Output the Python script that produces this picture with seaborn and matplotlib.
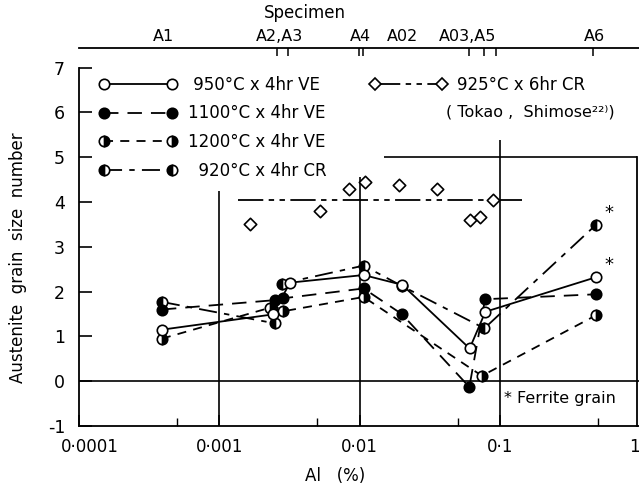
import numpy as np
import pandas as pd
import matplotlib
matplotlib.use("Agg")
import matplotlib.pyplot as plt
import matplotlib.transforms as mtransforms
from matplotlib.lines import Line2D
from matplotlib.ticker import FixedLocator, NullFormatter, FixedFormatter
import seaborn as sns

# ---------------- data ----------------
specimen_labels = ["A1", "A2,A3", "A4", "A02", "A03,A5", "A6"]
specimen_label_al = [0.00040, 0.0027, 0.0101, 0.0204, 0.059, 0.475]
specimen_tick_al = [0.00040, 0.00256, 0.00307, 0.0099, 0.0106, 0.0204,
                    0.0607, 0.0772, 0.0937, 0.465]

al_950 = [0.00039, 0.0024, 0.0032, 0.0107, 0.0202, 0.061, 0.079, 0.485]
gs_950 = [1.15, 1.49, 2.20, 2.37, 2.15, 0.73, 1.55, 2.32]

al_1100 = [0.00039, 0.0025, 0.00285, 0.0107, 0.0200, 0.0607, 0.0785, 0.485]
gs_1100 = [1.60, 1.81, 1.85, 2.07, 1.50, -0.13, 1.83, 1.94]

al_1200 = [0.00039, 0.0023, 0.00285, 0.0107, 0.0746, 0.485]
gs_1200 = [0.95, 1.64, 1.56, 1.88, 0.12, 1.47]

al_920 = [0.00039, 0.0025, 0.0028, 0.0107, 0.0202, 0.0777, 0.485]
gs_920 = [1.77, 1.29, 2.18, 2.58, 2.12, 1.18, 3.49]

al_925 = [0.00167, 0.00519, 0.00836, 0.01086, 0.0190, 0.0355, 0.0613, 0.0727, 0.0889]
gs_925 = [3.52, 3.80, 4.30, 4.44, 4.38, 4.28, 3.60, 3.66, 4.04]
mean_925 = 4.05
mean_925_range = [0.00136, 0.145]

ferrite_al = [0.485, 0.485]
ferrite_gs = [3.49, 2.32]

series_labels = [" 950°C x 4hr VE", "1100°C x 4hr VE", "1200°C x 4hr VE", "  920°C x 4hr CR"]
tokao_label = "925°C x 6hr CR"
tokao_ref = "( Tokao ,  Shimose²²⁾)"

xtick_vals = [1e-4, 1e-3, 1e-2, 1e-1, 1.0]
xtick_labels = ["0·0001", "0·001", "0·01", "0·1", "1"]
xminor_vals = [5e-4, 5e-3, 5e-2, 5e-1]
ytick_vals = [-1, 0, 1, 2, 3, 4, 5, 6, 7]
ytick_labels = ["-1", "0", "1", "2", "3", "4", "5", "6", "7"]

# ---------------- figure ----------------
sns.set_theme(style="white")
plt.rcParams['font.family'] = ['DejaVu Sans']
plt.rcParams['axes.unicode_minus'] = False
plt.rcParams['text.color'] = 'black'

W, H = 639, 493
fig = plt.figure(figsize=(W / 100, H / 100), dpi=100)
fig.patch.set_facecolor("white")
ax_left, ax_right, ax_top, ax_bottom = 79, 640, 48, 426
ax = fig.add_axes([ax_left / W, 1 - ax_bottom / H, (ax_right - ax_left) / W, (ax_bottom - ax_top) / H])
ax.set_facecolor("white")
ax.set_xscale("log")
ax.set_xlim(1e-4, 1.0)
ax.set_ylim(-1, -1 + (ax_bottom - ax_top) / 44.8)

K = "black"
LW = 1.3
MS = 7.5
MEW = 1.2


def draw(al, gs, **kw):
    df = pd.DataFrame({"al": al, "gs": gs})
    sns.lineplot(data=df, x="al", y="gs", ax=ax, estimator=None, sort=False,
                 color=K, legend=False, linewidth=LW, markersize=MS,
                 markeredgecolor=K, markeredgewidth=MEW, **kw)


style_920 = dict(linestyle=(0, (10, 4, 3, 4)), marker="o", fillstyle="left",
                 markerfacecolor=K, markerfacecoloralt="white")
style_1200 = dict(linestyle=(0, (5, 4)), marker="o", fillstyle="right",
                  markerfacecolor=K, markerfacecoloralt="white")
style_1100 = dict(linestyle=(0, (8, 5)), marker="o", markerfacecolor=K)
style_950 = dict(linestyle="-", marker="o", markerfacecolor="white")

draw(al_920, gs_920, zorder=3, **style_920)
draw(al_1200, gs_1200, zorder=3, **style_1200)
draw(al_1100, gs_1100, zorder=4, **style_1100)
draw(al_950, gs_950, zorder=5, **style_950)

sns.scatterplot(x=al_925, y=gs_925, ax=ax, marker="D", s=40, color="white",
                edgecolor=K, linewidth=1.2, zorder=5, legend=False)
dash_925 = (0, (14, 3, 3, 3, 3, 3))
ax.plot(mean_925_range, [mean_925, mean_925], color=K, lw=LW, linestyle=dash_925, zorder=2)

for xa, ya in zip(ferrite_al, ferrite_gs):
    ax.annotate("*", xy=(xa, ya), xytext=(6, 2), textcoords="offset points",
                fontsize=13, ha="left", va="bottom", color=K)

# ---------------- reference lines ----------------
ax.axhline(0, color=K, lw=1.2, zorder=1)
ax.vlines(1e-3, -1, 4.25, color=K, lw=1.2, zorder=1)
ax.vlines(1e-2, -1, 4.55, color=K, lw=1.2, zorder=1)
ax.vlines(1e-1, -1, 5.38, color=K, lw=1.2, zorder=1)
ax.hlines(5, 0.015, 0.952, color=K, lw=1.2, zorder=1)

ax.text(0.108, -0.38, "* Ferrite grain", fontsize=11.5, ha="left", va="center", color=K)

# ---------------- spines & ticks ----------------
for s in ax.spines.values():
    s.set_color(K)
    s.set_linewidth(1.3)
ax.spines["left"].set_bounds(-1, 7)
ax.spines["right"].set_position(("data", 0.952))
ax.spines["right"].set_bounds(-1, 5)

ax.xaxis.set_major_locator(FixedLocator(xtick_vals))
ax.xaxis.set_major_formatter(FixedFormatter(xtick_labels))
ax.xaxis.set_minor_locator(FixedLocator(xminor_vals))
ax.xaxis.set_minor_formatter(NullFormatter())
ax.tick_params(axis="x", which="major", direction="in", length=8, width=1.2,
               labelsize=12, pad=9, colors=K, bottom=True, top=False)
ax.tick_params(axis="x", which="minor", direction="in", length=6, width=1.0,
               bottom=True, top=False, colors=K)
ax.yaxis.set_major_locator(FixedLocator(ytick_vals))
ax.yaxis.set_major_formatter(FixedFormatter(ytick_labels))
ax.tick_params(axis="y", which="major", direction="in", length=9, width=1.2,
               labelsize=12.5, pad=10, colors=K, left=True, right=False, labelleft=True)
ax.set_xlabel("")
ax.set_ylabel("")

# top "Specimen" axis
ax2 = ax.twiny()
ax2.set_xscale("log")
ax2.set_xlim(ax.get_xlim())
for s in ax2.spines.values():
    s.set_visible(False)
ax2.xaxis.set_major_locator(FixedLocator(specimen_label_al))
ax2.xaxis.set_major_formatter(FixedFormatter(specimen_labels))
ax2.xaxis.set_minor_locator(FixedLocator(specimen_tick_al))
ax2.xaxis.set_minor_formatter(NullFormatter())
ax2.tick_params(axis="x", which="major", length=0, labelsize=11.5, pad=3, colors=K)
ax2.tick_params(axis="x", which="minor", direction="in", length=6, width=1.1, colors=K)

# shift the outermost bottom tick labels like the reference
fig.canvas.draw()
xl = ax.get_xticklabels()
xl[0].set_transform(xl[0].get_transform() + mtransforms.ScaledTranslation(8 / 72, 0, fig.dpi_scale_trans))
xl[-1].set_transform(xl[-1].get_transform() + mtransforms.ScaledTranslation(-4 / 72, 0, fig.dpi_scale_trans))

# ---------------- legends ----------------
def handle(style):
    return Line2D([], [], color=K, lw=LW, markersize=MS, markeredgecolor=K,
                  markeredgewidth=MEW, **style)

leg1 = ax.legend(handles=[handle(style_950), handle(style_1100), handle(style_1200), handle(style_920)],
                 labels=series_labels, loc="upper left",
                 bbox_to_anchor=(99 / W, 1 - 76 / H), bbox_transform=fig.transFigure,
                 frameon=False, numpoints=2, handlelength=4.7, handletextpad=0.65,
                 labelspacing=0.63, borderpad=0, borderaxespad=0, fontsize=12,
                 labelcolor=K)
ax.add_artist(leg1)
hd = Line2D([], [], color=K, lw=LW, linestyle=dash_925, marker="D", markersize=6.3,
            markerfacecolor="white", markeredgecolor=K, markeredgewidth=1.2)
leg2 = ax.legend(handles=[hd], labels=[tokao_label], loc="upper left",
                 bbox_to_anchor=(370 / W, 1 - 76 / H), bbox_transform=fig.transFigure,
                 frameon=False, numpoints=2, handlelength=4.6, handletextpad=0.6,
                 borderpad=0, borderaxespad=0, fontsize=12, labelcolor=K)
fig.text(446 / W, 1 - 112 / H, tokao_ref, fontsize=11.5, ha="left", va="center", color=K)

# ---------------- axis titles ----------------
fig.text(18 / W, 1 - 258 / H, "Austenite  grain  size  number", rotation=90,
         fontsize=12, ha="center", va="center", color=K)
fig.text(335 / W, 1 - 476 / H, "Al   (%)", fontsize=12, ha="center", va="center", color=K)
fig.text(305 / W, 1 - 13 / H, "Specimen", fontsize=12, ha="center", va="center", color=K)

fig.savefig("out.png", dpi=100, facecolor="white")
